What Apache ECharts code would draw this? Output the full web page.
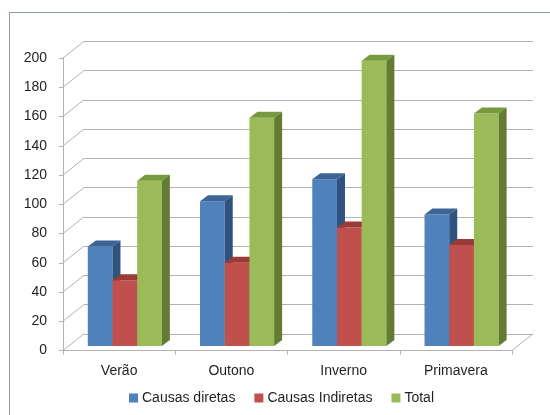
<!DOCTYPE html>
<html>
<head>
<meta charset="utf-8">
<script src="https://cdn.jsdelivr.net/npm/echarts@6/dist/echarts.min.js"></script>
<style>
  html, body { margin: 0; padding: 0; background: #fff; }
  #chart { width: 550px; height: 415px; }
</style>
</head>
<body>
<div id="chart"></div>
<script>
// dados
const estacoes = ['Verão', 'Outono', 'Inverno', 'Primavera'];
const causasDiretas = [68, 99, 114, 90];
const causasIndiretas = [45, 57, 81, 69];
const total = [113, 156, 195, 159];
const yTicks = [0, 20, 40, 60, 80, 100, 120, 140, 160, 180, 200];

// "profundidade" do grafico 3D (estilo Excel)
const DEPTH = {x: 21, y: 16.7};     // parede de tras
const SHIFT = {x: 5.7, y: 4.5};     // plano das barras
const BAR_DEPTH = {x: 8, y: 6};     // espessura das barras
const BAR_RATIO = 0.22;             // largura da barra / largura da categoria

const FRONT = {left: 63, top: 58, right: 38, bottom: 64.5};
const BACK = {
    left: FRONT.left + DEPTH.x, right: FRONT.right - DEPTH.x,
    top: FRONT.top - DEPTH.y, bottom: FRONT.bottom + DEPTH.y
};

const FONT = 'Liberation Sans';
const GRID_COLOR = '#b2b2b2';

const cores = [
    {front: '#4f81bd', top: '#3d6496', side: '#30527f'},
    {front: '#c0504d', top: '#9c3a37', side: '#7f2f2d'},
    {front: '#9bbb59', top: '#789a3e', side: '#627d32'}
];

function bar3d(idx, c) {
    return function (params, api) {
        const cat = api.value(0), v = api.value(1);
        const base = api.coord([cat, 0]);
        const top = api.coord([cat, v]);
        const w = api.size([1, 0])[0] * BAR_RATIO;
        const x0 = base[0] - 1.5 * w + idx * w + SHIFT.x;
        const x1 = x0 + w;
        const y0 = base[1] - SHIFT.y;
        const y1 = top[1] - SHIFT.y;
        const dx = BAR_DEPTH.x, dy = BAR_DEPTH.y;
        return {
            type: 'group',
            children: [
                {type: 'rect', shape: {x: x0, y: y1, width: w, height: y0 - y1}, style: {fill: c.front}},
                {type: 'polygon', shape: {points: [[x0, y1], [x1, y1], [x1 + dx, y1 - dy], [x0 + dx, y1 - dy]]}, style: {fill: c.top}},
                {type: 'polygon', shape: {points: [[x1, y1], [x1 + dx, y1 - dy], [x1 + dx, y0 - dy], [x1, y0]]}, style: {fill: c.side}}
            ]
        };
    };
}

// linhas diagonais da parede esquerda e do chao
function diagonais(params, api) {
    const cs = params.coordSys;
    const y = api.coord([0, api.value(1)])[1];
    const lines = [{
        type: 'line',
        shape: {x1: cs.x, y1: y, x2: cs.x + DEPTH.x, y2: y - DEPTH.y},
        style: {stroke: GRID_COLOR, lineWidth: 1}
    }];
    if (api.value(1) === 0) {
        lines.push({
            type: 'line',
            shape: {x1: cs.x + cs.width, y1: y, x2: cs.x + cs.width + DEPTH.x, y2: y - DEPTH.y},
            style: {stroke: GRID_COLOR, lineWidth: 1}
        });
    }
    return {type: 'group', children: lines};
}

const series = [causasDiretas, causasIndiretas, total].map((vals, i) => ({
    name: ['Causas diretas', 'Causas Indiretas', 'Total'][i],
    type: 'custom',
    xAxisIndex: 0,
    yAxisIndex: 0,
    z: 10 + i,
    itemStyle: {color: cores[i].front},
    renderItem: bar3d(i, cores[i]),
    encode: {x: 0, y: 1},
    data: vals.map((v, k) => [k, v])
}));

series.unshift({
    type: 'custom',
    xAxisIndex: 0,
    yAxisIndex: 0,
    silent: true,
    z: 2,
    renderItem: diagonais,
    encode: {x: 0, y: 1},
    data: yTicks.map(t => [0, t])
});

const chart = echarts.init(document.getElementById('chart'), null, {renderer: 'canvas'});

chart.setOption({
    animation: false,
    backgroundColor: '#fff',
    graphic: [{
        type: 'rect',
        silent: true,
        z: -10,
        shape: {x: 9.5, y: 12.5, width: 600, height: 450},
        style: {fill: 'none', stroke: '#8d9db1', lineWidth: 1}
    }],
    legend: {
        data: ['Causas diretas', 'Causas Indiretas', 'Total'],
        left: 129,
        top: 391,
        padding: 0,
        icon: 'rect',
        itemWidth: 9,
        itemHeight: 9,
        itemGap: 19,
        textStyle: {fontFamily: FONT, fontSize: 14, color: '#1f1f1f', padding: [0, 0, 0, -1]}
    },
    grid: [
        Object.assign({containLabel: false}, FRONT),
        Object.assign({containLabel: false}, BACK)
    ],
    xAxis: [{
        type: 'category',
        gridIndex: 0,
        data: estacoes,
        axisLine: {lineStyle: {color: GRID_COLOR}},
        axisTick: {show: true, length: 4, lineStyle: {color: GRID_COLOR}},
        axisLabel: {margin: 14, fontFamily: FONT, fontSize: 14, color: '#1f1f1f'}
    }, {
        type: 'category',
        gridIndex: 1,
        data: estacoes,
        show: false
    }],
    yAxis: [{
        type: 'value',
        gridIndex: 0,
        min: yTicks[0],
        max: yTicks[yTicks.length - 1],
        interval: yTicks[1] - yTicks[0],
        axisLine: {show: true, lineStyle: {color: GRID_COLOR}},
        axisTick: {show: true, length: 4, lineStyle: {color: GRID_COLOR}},
        axisLabel: {margin: 16, fontFamily: FONT, fontSize: 14, color: '#1f1f1f'},
        splitLine: {show: false}
    }, {
        type: 'value',
        gridIndex: 1,
        min: yTicks[0],
        max: yTicks[yTicks.length - 1],
        interval: yTicks[1] - yTicks[0],
        axisLine: {show: false},
        axisTick: {show: false},
        axisLabel: {show: false},
        splitLine: {show: true, lineStyle: {color: GRID_COLOR, width: 1}}
    }],
    series: series
});
</script>
</body>
</html>
